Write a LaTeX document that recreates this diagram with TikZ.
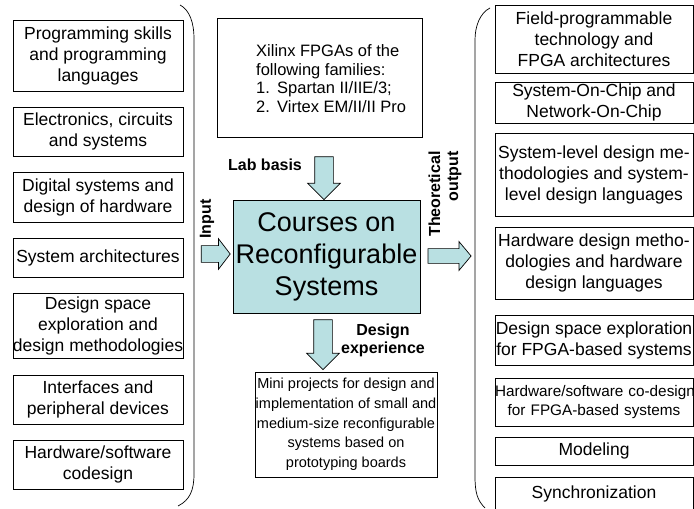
\documentclass[tikz,border=0pt]{standalone}
\usepackage{fontspec}
\setmainfont{Liberation Sans}
\usetikzlibrary{shapes.arrows}
\definecolor{coursefill}{RGB}{185,224,226}

\begin{document}
\begin{tikzpicture}[x=1bp, y=-1bp,
  box/.style={draw, line width=0.7bp, inner sep=0pt, align=center},
  inbox/.style={box, minimum width=170bp, minimum height=#1,
    font=\fontsize{17.5bp}{21bp}\selectfont},
  outbox/.style={box, minimum width=198bp, minimum height=#1,
    font=\fontsize{17.5bp}{21bp}\selectfont},
  fat/.style={single arrow, draw, fill=coursefill, line width=0.7bp,
    inner xsep=0pt, single arrow head indent=0pt},
  tag/.style={font=\fontsize{16bp}{18bp}\selectfont\bfseries, align=center}]
\useasboundingbox (0,0) rectangle (694,509);

% what goes in
\node[inbox=71bp] (in1) at (98,55.5) {Programming skills\\and programming\\languages};
\node[inbox=49bp] (in2) at (98,131.5) {Electronics, circuits\\and systems};
\node[inbox=50bp] (in3) at (98,197) {Digital systems and\\design of hardware};
\node[inbox=39bp] (in4) at (98,257.5) {System architectures};
\node[inbox=65bp] (in5) at (98,325.5) {Design space\\exploration and\\design methodologies};
\node[inbox=49bp] (in6) at (98,399.5) {Interfaces and\\peripheral devices};
\node[inbox=49bp] (in7) at (98,464.5) {Hardware/software\\codesign};
\draw[line width=0.7bp] (180,5) .. controls (190,10) and (194,24) .. (194,38)
  -- (194,474) .. controls (194,490) and (190,500) .. (178,506);

% what comes out
\node[outbox=68bp] (out1) at (594,39) {Field-programmable\\technology and\\FPGA architectures};
\node[outbox=41bp] (out2) at (594,102.5) {System-On-Chip and\\Network-On-Chip};
\node[outbox=83bp] (out3) at (594,174.5) {System-level design me-\\thodologies and system-\\level design languages};
\node[outbox=72bp] (out4) at (594,263) {Hardware design metho-\\dologies and hardware\\design languages};
\node[outbox=50bp] (out5) at (594,340) {Design space exploration\\for FPGA-based systems};
\node[outbox=48bp, text width=198bp, font=\fontsize{15.3bp}{19bp}\selectfont] (out6) at (594,402)
  {\mbox{Hardware/software co-design}\\for FPGA-based systems};
\node[outbox=28bp] (out7) at (594,451) {Modeling};
\node[outbox=34bp] (out8) at (594,494) {Synchronization};
\draw[line width=0.7bp] (490,8) .. controls (480,13) and (475,26) .. (475,40)
  -- (475,476) .. controls (475,492) and (477,500) .. (485,508);

% course and lab
\node[box, minimum width=205bp, minimum height=119bp] (fpga) at (319.5,77.5) {};
\node[anchor=west, align=left, font=\fontsize{16.5bp}{18.7bp}\selectfont] (fpgalist)
  at ([xshift=36bp,yshift=-1bp]fpga.west)
  {Xilinx FPGAs of the\\following families:\\\makebox[21bp][l]{1.}Spartan II/IIE/3;\\\makebox[21bp][l]{2.}Virtex EM/II/II Pro};
\node[box, fill=coursefill, minimum width=187bp, minimum height=113bp,
  font=\fontsize{27bp}{32bp}\selectfont] (course) at (326.5,256.5) {Courses on\\Reconfigurable\\Systems};
\node[box, minimum width=182bp, minimum height=105bp,
  font=\fontsize{14.5bp}{19.7bp}\selectfont] (proj) at (346,424.5)
  {Mini projects for design and\\implementation of small and\\medium-size reconfigurable\\systems based on\\prototyping boards};

% fat arrows
\node[fat, rotate=-90, minimum height=43bp, inner ysep=9bp, single arrow head extend=7bp] (labarrow) at (324,173.5) {};
\node[fat, minimum height=29bp, inner ysep=8bp, single arrow head extend=7bp, single arrow tip angle=105] (inarrow) at (212.5,254) {};
\node[fat, minimum height=43bp, inner ysep=7bp, single arrow head extend=7bp, single arrow tip angle=100] (outarrow) at (446.5,256) {};
\node[fat, rotate=-90, minimum height=50bp, inner ysep=9bp, single arrow head extend=7bp] (designarrow) at (323,340) {};

\node[tag] (labtag) at (265,165) {Lab basis};
\node[tag, rotate=90] (intag) at (207,219) {Input};
\node[tag, rotate=90, align=right] (outtag) at (445,194) {Theoretical\\output};
\node[tag] (designtag) at (383,340) {Design\\experience};
\end{tikzpicture}
\end{document}
